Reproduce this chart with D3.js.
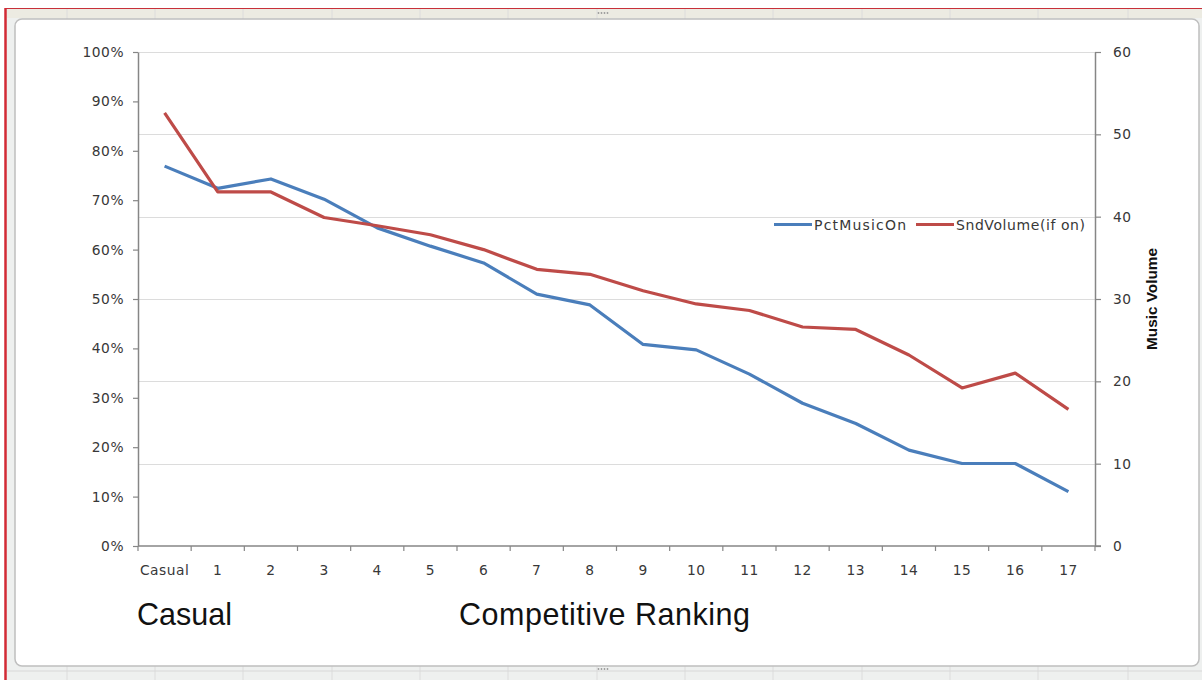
<!DOCTYPE html>
<html>
<head>
<meta charset="utf-8">
<script src="https://cdn.jsdelivr.net/npm/d3@7"></script>
<style>
  html, body { margin: 0; padding: 0; background: #ffffff; }
  svg { display: block; }
</style>
</head>
<body>
<script>
// Categories along the bottom axis
const categories = ["Casual", "1", "2", "3", "4", "5", "6", "7", "8", "9",
                    "10", "11", "12", "13", "14", "15", "16", "17"];

// Share of players with music on (left axis, percent)
const pctMusicOn = [76.9, 72.4, 74.3, 70.2, 64.4, 60.7, 57.3, 51.0, 48.8, 40.8,
                    39.7, 34.8, 28.9, 24.8, 19.4, 16.7, 16.7, 11.0];

// Sound volume among those with music on (right axis)
const sndVolume = [52.6, 43.0, 43.0, 39.9, 38.9, 37.8, 36.0, 33.6, 33.0, 31.0,
                   29.4, 28.6, 26.6, 26.3, 23.2, 19.2, 21.0, 16.6];

const leftTicks = [0, 10, 20, 30, 40, 50, 60, 70, 80, 90, 100];
const rightTicks = [0, 10, 20, 30, 40, 50, 60];

const seriesNames = ["PctMusicOn", "SndVolume(if on)"];
const seriesColors = ["#4a7ebb", "#be4b48"];

const W = 1202, H = 680;
const plot = { left: 138, right: 1095, top: 52, bottom: 546 };

const svg = d3.select("body").append("svg")
  .attr("width", W).attr("height", H);

// ---- spreadsheet surround ----
svg.append("rect").attr("x", 0).attr("y", 0).attr("width", W).attr("height", H)
  .attr("fill", "#ffffff");
svg.append("rect").attr("x", 5).attr("y", 8).attr("width", W - 5).attr("height", H - 8)
  .attr("fill", "#eef0ef");
svg.append("rect").attr("x", 7).attr("y", 9).attr("width", W - 7).attr("height", 9)
  .attr("fill", "#ecebe2");
// faint cell lines
const cellX = [67, 155, 243, 332, 420, 508, 597, 685, 773, 862, 950, 1038, 1128];
svg.append("g").selectAll("line").data(cellX).join("line")
  .attr("x1", d => d).attr("x2", d => d).attr("y1", 9).attr("y2", H)
  .attr("stroke", "#dcdcdc").attr("stroke-width", 1);
svg.append("line").attr("x1", 7).attr("x2", W).attr("y1", 671).attr("y2", 671)
  .attr("stroke", "#d8d8d8");
// red selection edges
svg.append("line").attr("x1", 5).attr("x2", W).attr("y1", 8.5).attr("y2", 8.5)
  .attr("stroke", "#c8303a").attr("stroke-width", 1.2);
svg.append("line").attr("x1", 5.5).attr("x2", 5.5).attr("y1", 8).attr("y2", H)
  .attr("stroke", "#d22a35").attr("stroke-width", 2.5);

// chart area
svg.append("rect").attr("x", 15).attr("y", 19).attr("width", 1184).attr("height", 647)
  .attr("rx", 7).attr("fill", "#ffffff").attr("stroke", "#bfbfbf").attr("stroke-width", 1.5);

// resize handles
[[603, 13], [603, 669]].forEach(([cx, cy]) => {
  svg.append("g").selectAll("circle").data([-4.5, -1.5, 1.5, 4.5]).join("circle")
    .attr("cx", d => cx + d).attr("cy", cy).attr("r", 0.9).attr("fill", "#9a9a9a");
});

// ---- scales ----
const x = d3.scaleBand().domain(categories).range([plot.left, plot.right]).padding(0);
const cx = d => x(d) + x.bandwidth() / 2;
const yL = d3.scaleLinear().domain([0, 100]).range([plot.bottom, plot.top]);
const yR = d3.scaleLinear().domain([0, 60]).range([plot.bottom, plot.top]);

// gridlines (from secondary axis)
svg.append("g").selectAll("line").data(rightTicks.filter(d => d > 0)).join("line")
  .attr("x1", plot.left).attr("x2", plot.right)
  .attr("y1", d => Math.round(yR(d)) + 0.5).attr("y2", d => Math.round(yR(d)) + 0.5)
  .attr("stroke", "#dcdcdc").attr("stroke-width", 1.2);

const tickFont = "DejaVu Sans, Verdana, sans-serif";
const labelColor = "#383838";
const axisColor = "#868686";
const tickSize = 13.8;

function styleAxis(g) {
  g.select(".domain").attr("stroke", axisColor).attr("stroke-width", 1.5);
  g.selectAll(".tick line").attr("stroke", axisColor).attr("stroke-width", 1.2);
  g.selectAll(".tick text").attr("fill", labelColor)
    .attr("font-family", tickFont).attr("font-size", tickSize).attr("letter-spacing", 0.5);
}

// left axis
svg.append("g").attr("transform", `translate(${plot.left},0)`)
  .call(d3.axisLeft(yL).tickValues(leftTicks).tickFormat(d => d + "%")
    .tickSizeInner(5).tickSizeOuter(0).tickPadding(9))
  .call(styleAxis);

// right axis
svg.append("g").attr("transform", `translate(${plot.right},0)`)
  .call(d3.axisRight(yR).tickValues(rightTicks).tickFormat(d3.format("d"))
    .tickSizeInner(6).tickSizeOuter(0).tickPadding(12))
  .call(styleAxis);

// bottom axis: ticks on category boundaries, labels at centres
const xAxisG = svg.append("g").attr("transform", `translate(0,${plot.bottom})`);
xAxisG.append("line").attr("x1", plot.left).attr("x2", plot.right + 6)
  .attr("y1", 0).attr("y2", 0).attr("stroke", axisColor).attr("stroke-width", 1.5);
const boundaries = categories.map(c => x(c)).concat([plot.right]);
xAxisG.selectAll("line.bt").data(boundaries).join("line").attr("class", "bt")
  .attr("x1", d => d).attr("x2", d => d).attr("y1", 0).attr("y2", 5)
  .attr("stroke", axisColor).attr("stroke-width", 1.2);
xAxisG.selectAll("text").data(categories).join("text")
  .attr("x", d => cx(d)).attr("y", 29)
  .attr("text-anchor", "middle")
  .attr("fill", labelColor).attr("font-family", tickFont).attr("font-size", tickSize)
  .attr("letter-spacing", 0.5)
  .text(d => d);

// right axis title
svg.append("text")
  .attr("transform", "translate(1157,299) rotate(-90)")
  .attr("text-anchor", "middle")
  .attr("font-family", "Liberation Sans Narrow, Liberation Sans, Arial, sans-serif")
  .attr("font-weight", "bold").attr("font-size", 15).attr("fill", "#111111")
  .attr("textLength", 102).attr("lengthAdjust", "spacingAndGlyphs")
  .text("Music Volume");

// ---- lines ----
const lineL = d3.line().x((d, i) => cx(categories[i])).y(d => yL(d));
const lineR = d3.line().x((d, i) => cx(categories[i])).y(d => yR(d));

svg.append("path").datum(pctMusicOn).attr("d", lineL)
  .attr("fill", "none").attr("stroke", seriesColors[0]).attr("stroke-width", 3.2)
  .attr("stroke-linejoin", "round");
svg.append("path").datum(sndVolume).attr("d", lineR)
  .attr("fill", "none").attr("stroke", seriesColors[1]).attr("stroke-width", 3.2)
  .attr("stroke-linejoin", "round");

// ---- legend ----
const legendItems = [
  { name: seriesNames[0], color: seriesColors[0], x0: 774, len: 92 },
  { name: seriesNames[1], color: seriesColors[1], x0: 916, len: 129 }
];
const lg = svg.append("g");
legendItems.forEach(it => {
  lg.append("line").attr("x1", it.x0).attr("x2", it.x0 + 38)
    .attr("y1", 224.5).attr("y2", 224.5)
    .attr("stroke", it.color).attr("stroke-width", 3);
  lg.append("text").attr("x", it.x0 + 40).attr("y", 229.5)
    .attr("font-family", tickFont).attr("font-size", 14)
    .attr("textLength", it.len).attr("lengthAdjust", "spacing")
    .attr("fill", labelColor).text(it.name);
});

// ---- bottom captions ----
svg.append("text").attr("x", 137).attr("y", 625)
  .attr("font-family", "Liberation Sans, Arial, sans-serif").attr("font-size", 30.5)
  .attr("fill", "#111111").text("Casual");
svg.append("text").attr("x", 459).attr("y", 625)
  .attr("font-family", "Liberation Sans, Arial, sans-serif").attr("font-size", 30.5)
  .attr("textLength", 291).attr("lengthAdjust", "spacing")
  .attr("fill", "#111111").text("Competitive Ranking");
</script>
</body>
</html>
